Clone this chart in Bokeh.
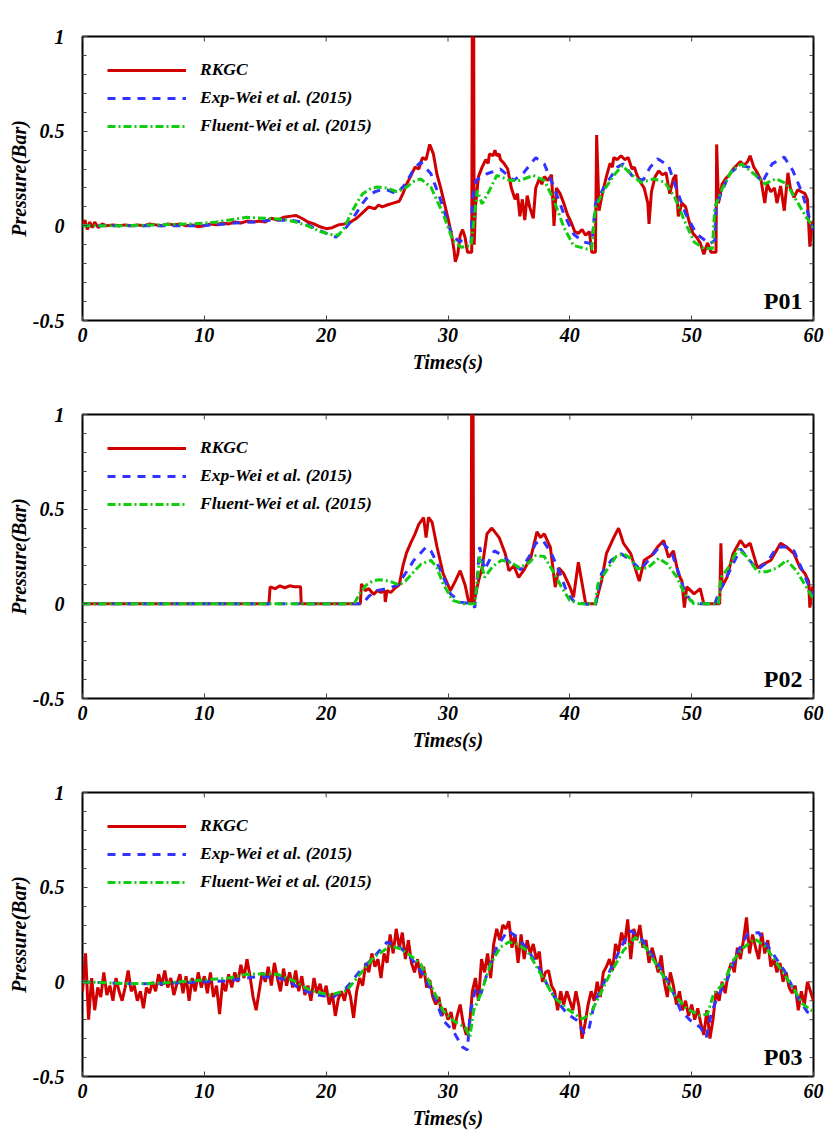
import numpy as np
from bokeh.plotting import figure
from bokeh.models import Range1d, FixedTicker, Legend, LegendItem, Label
from bokeh.layouts import column
from bokeh.embed import file_html
from bokeh.resources import INLINE

FONT = "Liberation Serif"
RED, BLUE, GREEN = "#D00000", "#3333FF", "#11CC11"
TICK_COLOR = "#444444"

SERIES_NAMES = ["RKGC", "Exp-Wei et al. (2015)", "Fluent-Wei et al. (2015)"]
PANEL_NAMES = ["P01", "P02", "P03"]
X_TICKS = [0, 10, 20, 30, 40, 50, 60]
Y_TICKS = [-0.5, 0, 0.5, 1]
Y_MINOR = [-0.4, -0.3, -0.2, -0.1, 0.1, 0.2, 0.3, 0.4, 0.6, 0.7, 0.8, 0.9]
Y_TICK_LABELS = {-0.5: "-0.5", 0: "0", 0.5: "0.5", 1: "1"}
X_LABEL = "Times(s)"
Y_LABEL = "Pressure(Bar)"

# ---------------- P01 ----------------
p1_rkgc = [(0, 0.0), (0.2, 0.03), (0.4, -0.02), (0.6, 0.02), (0.8, -0.01), (1.0, 0.02), (1.3, -0.01),
           (1.6, 0.01), (2, 0.0), (2.5, 0.005), (3, 0.0), (3.5, 0.005), (4, 0.0), (4.5, 0.005), (5, 0.0),
           (5.5, 0.01), (6, 0.005), (6.5, 0.0), (7, 0.01), (7.5, 0.005), (8, 0.01), (8.5, 0.0), (9, 0.005),
           (9.5, -0.005), (10, 0.0), (10.5, 0.01), (11, 0.005), (11.5, 0.015), (12, 0.01), (12.5, 0.02),
           (13, 0.015), (13.5, 0.025), (14, 0.02), (14.5, 0.025), (15, 0.02), (15.5, 0.04), (16, 0.03),
           (16.5, 0.045), (17, 0.05), (17.5, 0.055), (18, 0.04), (18.5, 0.02), (19, 0.01), (19.5, -0.005),
           (20, -0.015), (20.5, -0.01), (21, 0.005), (21.5, 0.01), (22, 0.02), (22.5, 0.04), (23, 0.07),
           (23.5, 0.1), (24, 0.09), (24.3, 0.11), (24.6, 0.1), (25, 0.11), (25.5, 0.12), (26, 0.13),
           (26.3, 0.17), (26.6, 0.22), (27, 0.27), (27.3, 0.31), (27.6, 0.3), (27.9, 0.36), (28.2, 0.35),
           (28.5, 0.43), (28.8, 0.38), (29.1, 0.27), (29.4, 0.2), (29.7, 0.12), (30.0, 0.04), (30.3, -0.05),
           (30.5, -0.13), (30.6, -0.19), (30.8, -0.15), (31.0, -0.05), (31.2, -0.02), (31.4, -0.06),
           (31.6, -0.14), (31.95, -0.14), (32.0, 1.3), (32.1, 1.3), (32.15, -0.1), (32.25, 0.1), (32.5, 0.26),
           (32.8, 0.31), (33.1, 0.35), (33.3, 0.33), (33.4, 0.38), (33.7, 0.37), (33.85, 0.4), (34.0, 0.37),
           (34.2, 0.38), (34.3, 0.35), (34.6, 0.33), (34.9, 0.3), (35.2, 0.2), (35.5, 0.14), (35.7, 0.17),
           (35.9, 0.05), (36.1, 0.14), (36.3, 0.03), (36.5, 0.16), (36.7, 0.1), (37.0, 0.04), (37.2, 0.2),
           (37.5, 0.25), (37.7, 0.22), (37.9, 0.26), (38.2, 0.24), (38.5, 0.27), (38.7, 0.0), (38.9, 0.2),
           (39.2, 0.17), (39.5, 0.12), (39.8, 0.06), (40.1, 0.02), (40.4, -0.03), (40.7, -0.04), (41.0, -0.02),
           (41.3, -0.05), (41.6, -0.03), (41.8, -0.14), (42.1, -0.14), (42.2, 0.48), (42.4, 0.08), (42.7, 0.18),
           (43.0, 0.26), (43.3, 0.33), (43.5, 0.31), (43.6, 0.36), (43.9, 0.35), (44.2, 0.37), (44.5, 0.35),
           (44.8, 0.36), (45.1, 0.3), (45.3, 0.31), (45.5, 0.27), (45.8, 0.23), (46.1, 0.2), (46.4, 0.12),
           (46.5, 0.01), (46.7, 0.18), (47.0, 0.26), (47.3, 0.29), (47.6, 0.27), (47.9, 0.28), (48.2, 0.17),
           (48.5, 0.25), (48.7, 0.27), (48.9, 0.05), (49.2, 0.12), (49.5, 0.1), (49.8, 0.02), (50.1, -0.04),
           (50.4, -0.06), (50.7, -0.09), (51.0, -0.15), (51.3, -0.09), (51.6, -0.14), (52.0, -0.14),
           (52.05, 0.43), (52.2, 0.12), (52.5, 0.22), (52.8, 0.25), (53.1, 0.27), (53.4, 0.3), (53.7, 0.32),
           (54.0, 0.34), (54.3, 0.32), (54.6, 0.34), (54.8, 0.37), (55.1, 0.31), (55.4, 0.28), (55.7, 0.24),
           (56.0, 0.12), (56.2, 0.22), (56.5, 0.18), (56.8, 0.2), (57.0, 0.12), (57.3, 0.21), (57.6, 0.08),
           (57.9, 0.28), (58.1, 0.2), (58.4, 0.15), (58.7, 0.19), (59.0, 0.18), (59.3, 0.17), (59.5, 0.14),
           (59.7, -0.11), (59.9, 0.02), (60, 0.02)]
p1_exp = [(0, 0.0), (3, 0.0), (6, 0.0), (9, 0.0), (11, 0.005), (12.5, 0.015), (14, 0.02), (15.5, 0.03),
          (17, 0.03), (18, 0.02), (19, -0.01), (20, -0.04), (20.8, -0.06), (21.5, -0.02), (22, 0.02),
          (22.5, 0.07), (23, 0.12), (23.5, 0.16), (24, 0.18), (24.5, 0.19), (25, 0.19), (25.8, 0.17),
          (26.5, 0.22), (27.2, 0.3), (27.75, 0.336), (28.6, 0.275), (29.4, 0.135), (30.2, -0.025),
          (30.8, -0.078), (31.6, -0.085), (31.9, -0.085), (32.0, 0.135), (32.3, 0.24), (33.2, 0.275),
          (34.3, 0.30), (35.4, 0.24), (36.2, 0.28), (37.2, 0.36), (37.9, 0.327), (38.7, 0.204), (39.5, 0.064),
          (40.3, -0.043), (41.1, -0.085), (41.8, -0.095), (42.1, 0.116), (42.8, 0.204), (43.9, 0.31),
          (44.4, 0.327), (45.2, 0.257), (46.0, 0.24), (46.6, 0.31), (47.2, 0.354), (48.1, 0.318), (48.7, 0.204),
          (49.5, 0.064), (50.4, -0.043), (51.5, -0.095), (51.9, -0.078), (52.0, 0.098), (52.4, 0.169),
          (53.1, 0.275), (53.9, 0.318), (54.7, 0.31), (55.8, 0.23), (56.6, 0.327), (57.6, 0.363), (58.3, 0.292),
          (59.1, 0.169), (59.8, 0.011), (60, -0.02)]
p1_fluent = [(0, 0.0), (3, 0.0), (6, 0.005), (9, 0.01), (11, 0.02), (12.5, 0.035), (13.5, 0.045), (15, 0.04),
             (16.5, 0.035), (17.5, 0.02), (18.5, 0.0), (19.5, -0.03), (20.3, -0.045), (21, -0.05), (21.5, -0.01),
             (22, 0.06), (22.5, 0.12), (23, 0.17), (23.6, 0.195), (24.2, 0.205), (25, 0.2), (25.8, 0.18),
             (26.5, 0.2), (27.2, 0.235), (27.75, 0.248), (28.6, 0.204), (29.6, 0.064), (30.4, -0.078),
             (31.1, -0.113), (31.9, -0.104), (32.4, 0.187), (32.8, 0.116), (33.4, 0.187), (34.0, 0.266),
             (35.1, 0.24), (35.9, 0.24), (37.0, 0.266), (37.9, 0.24), (38.7, 0.134), (39.5, -0.007),
             (40.3, -0.104), (41.4, -0.122), (41.8, -0.122), (42.1, 0.098), (42.8, 0.187), (43.6, 0.266),
             (44.3, 0.318), (45.0, 0.275), (45.8, 0.23), (46.9, 0.248), (47.8, 0.23), (48.6, 0.151),
             (49.4, 0.028), (50.2, -0.085), (51.0, -0.12), (51.7, -0.12), (51.9, 0.098), (52.5, 0.195),
             (53.3, 0.292), (54.1, 0.327), (55.1, 0.275), (56.0, 0.222), (56.9, 0.248), (57.8, 0.222),
             (58.6, 0.134), (59.4, 0.046), (59.8, 0.011), (60, -0.02)]

# ---------------- P02 ----------------
p2_rkgc = [(0, 0.0), (15.3, 0.0), (15.4, 0.09), (15.8, 0.08), (16.2, 0.095), (16.6, 0.085), (17.0, 0.095),
           (17.4, 0.09), (17.9, 0.09), (17.95, 0.0), (22.8, 0.0), (22.9, 0.105), (23.2, 0.07), (23.5, 0.08),
           (23.9, 0.05), (24.2, 0.07), (24.5, 0.06), (24.8, 0.07), (24.85, 0.01), (25.0, 0.07), (25.3, 0.06),
           (25.6, 0.08), (26.0, 0.1), (26.3, 0.2), (26.6, 0.27), (27.0, 0.33), (27.3, 0.37), (27.6, 0.42),
           (28.0, 0.455), (28.2, 0.35), (28.4, 0.457), (28.7, 0.43), (29.1, 0.3), (29.6, 0.16), (30.2, 0.07),
           (30.6, 0.12), (31.0, 0.175), (31.4, 0.1), (31.7, 0.01), (31.9, 0.0), (31.95, 1.3), (32.05, 1.3),
           (32.1, 0.0), (32.5, 0.12), (32.8, 0.19), (33.2, 0.37), (33.6, 0.40), (34.2, 0.35), (34.7, 0.265),
           (35.0, 0.175), (35.4, 0.2), (35.8, 0.14), (36.2, 0.175), (36.8, 0.245), (37.3, 0.38), (37.6, 0.35),
           (37.9, 0.37), (38.4, 0.30), (38.8, 0.088), (39.1, 0.19), (39.5, 0.16), (40.0, 0.09), (40.3, 0.035),
           (40.7, 0.22), (41.3, 0.0), (42.1, 0.0), (42.6, 0.12), (43.0, 0.265), (43.6, 0.35), (44.0, 0.40),
           (44.4, 0.32), (45.0, 0.265), (45.5, 0.16), (45.7, 0.12), (46.1, 0.23), (46.7, 0.255), (47.2, 0.30),
           (47.7, 0.335), (48.1, 0.245), (48.5, 0.28), (48.9, 0.16), (49.2, 0.12), (49.4, -0.02), (49.6, 0.09),
           (50.2, 0.053), (50.7, 0.08), (51.0, 0.0), (52.3, 0.0), (52.4, 0.32), (52.5, 0.09), (52.9, 0.14),
           (53.4, 0.265), (54.0, 0.335), (54.4, 0.30), (54.8, 0.32), (55.4, 0.19), (55.9, 0.21), (56.5, 0.23),
           (57.3, 0.32), (57.8, 0.30), (58.4, 0.265), (58.9, 0.19), (59.3, 0.16), (59.6, 0.12), (59.7, -0.02),
           (59.9, 0.09), (60, 0.05)]
p2_exp = [(0, 0.0), (23.0, 0.0), (23.5, 0.04), (24.2, 0.07), (25.0, 0.08), (25.9, 0.1), (26.5, 0.16),
          (27.2, 0.23), (28.2, 0.30), (28.6, 0.28), (29.4, 0.175), (30.2, 0.053), (31.0, 0.009), (32.0, 0.0),
          (32.2, -0.02), (32.6, 0.30), (33.0, 0.18), (33.8, 0.28), (34.5, 0.255), (35.2, 0.21), (36.0, 0.18),
          (36.8, 0.265), (37.2, 0.32), (37.8, 0.335), (38.5, 0.265), (39.2, 0.16), (39.8, 0.053), (40.4, 0.009),
          (41.2, 0.0), (42.1, -0.01), (42.6, 0.16), (43.4, 0.23), (44.2, 0.265), (45.0, 0.23), (45.8, 0.18),
          (46.7, 0.25), (47.6, 0.32), (48.3, 0.28), (48.8, 0.19), (49.4, 0.07), (49.9, 0.018), (50.7, 0.0),
          (51.9, 0.0), (52.2, 0.053), (52.7, 0.12), (53.4, 0.21), (54.0, 0.29), (54.5, 0.25), (55.4, 0.18),
          (56.2, 0.22), (57.0, 0.30), (57.8, 0.30), (58.4, 0.28), (59.2, 0.16), (59.9, 0.053), (60, 0.04)]
p2_fluent = [(0, 0.0), (22.3, 0.0), (22.8, 0.06), (23.3, 0.1), (23.8, 0.12), (24.3, 0.127), (24.8, 0.125),
             (25.4, 0.115), (26.0, 0.1), (26.5, 0.12), (27.2, 0.17), (27.8, 0.21), (28.6, 0.23), (29.1, 0.19),
             (29.6, 0.105), (30.4, 0.018), (31.3, 0.0), (32.2, 0.0), (32.6, 0.25), (33.0, 0.14), (33.7, 0.2),
             (34.4, 0.23), (35.1, 0.22), (35.9, 0.19), (36.7, 0.22), (37.2, 0.255), (37.9, 0.25), (38.6, 0.175),
             (39.3, 0.09), (40.0, 0.018), (40.8, 0.0), (42.1, 0.0), (42.3, 0.105), (43.0, 0.175), (43.8, 0.25),
             (44.4, 0.265), (45.0, 0.24), (45.5, 0.185), (46.4, 0.19), (47.3, 0.24), (48.0, 0.21), (48.8, 0.14),
             (49.4, 0.053), (50.2, 0.0), (52.2, 0.0), (52.4, 0.14), (53.0, 0.19), (53.8, 0.29), (54.5, 0.25),
             (55.4, 0.17), (56.2, 0.17), (57.0, 0.19), (57.8, 0.23), (58.6, 0.175), (59.4, 0.09), (59.9, 0.035),
             (60, 0.03)]

# ---------------- P03 ----------------
# RKGC sampled every 0.25 s from 0 to 60 s
p3_rkgc_values = [
    -0.05, 0.15, -0.2, 0.02, -0.15, -0.03, -0.08, 0.05, -0.07, -0.02, -0.1, 0.02, -0.05, -0.1, -0.03, 0.06, -0.05, -0.02, -0.1, -0.05,
    -0.14, -0.03, -0.06, 0.0, -0.05, 0.04, -0.02, 0.06, -0.03, 0.02, -0.07, -0.01, 0.04, -0.06, 0.03, -0.1, 0.02, -0.05, 0.05, -0.03,
    0.03, -0.06, 0.05, -0.08, -0.02, -0.17, 0.0, -0.05, 0.04, -0.03, 0.05, 0.0, 0.09, 0.02, 0.12, 0.03, -0.08, -0.15, -0.05, 0.05,
    0.0, 0.08, -0.02, 0.1, 0.02, -0.05, 0.07, -0.02, 0.05, -0.03, 0.06, -0.05, 0.03, -0.07, -0.02, -0.1, 0.02, -0.06, -0.01, -0.08,
    -0.02, -0.12, -0.06, -0.18, -0.09, -0.05, -0.1, -0.02, -0.08, -0.19, -0.05, 0.02, -0.02, 0.1, 0.05, 0.15, 0.08, 0.12, 0.02, 0.15,
    0.1, 0.25, 0.15, 0.28, 0.18, 0.26, 0.12, 0.22, 0.1, 0.05, 0.12, 0.02, 0.08, -0.03, 0.01, -0.08, -0.12, -0.08, -0.18, -0.14,
    -0.2, -0.16, -0.25, -0.18, -0.12, -0.22, -0.28, -0.24, -0.05, 0.02, -0.1, 0.12, 0.05, 0.15, 0.02, 0.2, 0.28, 0.22, 0.3, 0.28,
    0.32, 0.18, 0.25, 0.1, 0.25, 0.12, 0.22, 0.15, 0.2, 0.12, 0.16, 0.0, 0.05, 0.06, -0.02, -0.05, -0.15, -0.05, -0.12, -0.05,
    -0.1, -0.15, -0.05, -0.13, -0.3, -0.22, -0.12, -0.05, -0.1, 0.0, -0.08, 0.05, 0.08, 0.12, 0.06, 0.2, 0.16, 0.26, 0.2, 0.33,
    0.12, 0.28, 0.22, 0.3, 0.18, 0.22, 0.1, 0.18, 0.12, 0.05, 0.14, 0.0, -0.08, 0.05, -0.02, -0.12, -0.05, -0.15, -0.1, -0.18,
    -0.12, -0.2, -0.14, -0.22, -0.28, -0.15, -0.3, -0.2, -0.05, -0.1, 0.0, -0.06, 0.05, 0.1, 0.05, 0.18, 0.12, 0.22, 0.34, 0.15,
    0.25, 0.18, 0.12, 0.26, 0.15, 0.22, 0.08, 0.12, 0.05, 0.1, 0.0, 0.05, -0.03, -0.06, -0.02, -0.15, -0.05, -0.12, 0.0, -0.05,
    -0.1]
p3_rkgc_times = np.linspace(0, 60, len(p3_rkgc_values))
p3_rkgc = list(zip(p3_rkgc_times, p3_rkgc_values))
p3_exp = [(0, 0.0), (2, -0.005), (4, -0.01), (6, -0.01), (8, -0.005), (10, 0.0), (12, 0.005), (13, 0.016),
          (14.1, 0.025), (15.7, 0.025), (16.8, 0.01), (17.9, -0.04), (19.3, -0.07), (20.6, -0.08), (21.7, -0.03),
          (22.8, 0.06), (23.9, 0.13), (25.0, 0.21), (26.1, 0.18), (26.9, 0.13), (27.75, 0.06), (28.8, -0.063),
          (29.6, -0.204), (30.4, -0.257), (31.2, -0.345), (31.6, -0.36), (31.8, -0.17), (32.3, -0.028),
          (32.7, -0.063), (33.2, 0.042), (34.0, 0.183), (34.9, 0.27), (35.5, 0.245), (36.4, 0.183), (37.3, 0.095),
          (38.1, -0.01), (38.9, -0.098), (39.8, -0.17), (40.6, -0.204), (41.2, -0.275), (41.6, -0.24),
          (42.0, -0.116), (42.5, -0.045), (43.3, 0.06), (44.2, 0.183), (45.0, 0.27), (45.8, 0.235), (46.6, 0.156),
          (47.4, 0.077), (48.3, -0.028), (49.1, -0.152), (49.9, -0.204), (50.7, -0.24), (51.2, -0.292),
          (51.6, -0.17), (52.1, -0.081), (52.9, 0.007), (53.7, 0.148), (54.6, 0.253), (55.5, 0.26), (56.5, 0.165),
          (57.6, 0.06), (58.7, -0.081), (59.5, -0.16), (60, -0.17)]
p3_fluent = [(0, 0.0), (2, -0.005), (4, -0.01), (6, -0.008), (8, 0.0), (10, 0.01), (12, 0.02), (13.5, 0.04),
             (14.5, 0.042), (16, 0.04), (17.3, 0.007), (18.7, -0.045), (20.3, -0.07), (21.7, -0.045), (22.8, 0.042),
             (23.9, 0.13), (25.3, 0.19), (26.1, 0.174), (26.9, 0.14), (27.75, 0.095), (28.8, -0.045), (29.6, -0.152),
             (30.4, -0.204), (31.4, -0.24), (31.8, -0.29), (32.1, -0.152), (32.7, -0.063), (33.5, 0.095),
             (34.3, 0.183), (35.0, 0.21), (35.7, 0.2), (36.5, 0.165), (37.6, 0.042), (38.7, -0.081), (39.8, -0.143),
             (41.0, -0.196), (41.7, -0.17), (42.5, -0.063), (43.3, 0.042), (44.4, 0.165), (45.4, 0.235),
             (46.3, 0.174), (47.4, 0.06), (48.5, -0.063), (49.6, -0.143), (50.7, -0.178), (51.3, -0.17),
             (51.8, -0.063), (52.6, -0.01), (53.4, 0.112), (54.3, 0.183), (55.2, 0.227), (56.1, 0.183),
             (57.2, 0.077), (58.3, -0.028), (59.1, -0.116), (59.8, -0.15), (60, -0.15)]

PANELS = [(p1_rkgc, p1_exp, p1_fluent), (p2_rkgc, p2_exp, p2_fluent), (p3_rkgc, p3_exp, p3_fluent)]


def style_axis(ax, ticks, minor):
    ax.ticker = FixedTicker(ticks=ticks, minor_ticks=minor)
    ax.axis_line_color = None
    ax.major_tick_in = 5
    ax.major_tick_out = 0
    ax.minor_tick_in = 4
    ax.minor_tick_out = 0
    ax.major_tick_line_color = TICK_COLOR
    ax.minor_tick_line_color = TICK_COLOR
    ax.major_tick_line_width = 1
    ax.minor_tick_line_width = 1
    ax.major_label_text_font = FONT
    ax.major_label_text_font_style = "bold italic"
    ax.major_label_text_color = "black"
    ax.major_label_text_font_size = "20px"
    ax.axis_label_text_font = FONT
    ax.axis_label_text_font_style = "bold italic"
    ax.axis_label_text_font_size = "20px"
    ax.axis_label_text_color = "black"


def make_panel(idx, bottom_border):
    rk, ex, fl = PANELS[idx]
    p = figure(frame_width=731, frame_height=284, output_backend="svg", toolbar_location=None,
               x_range=Range1d(0, 60), y_range=Range1d(-0.5, 1),
               min_border_left=82, min_border_right=17, min_border_top=36, min_border_bottom=bottom_border,
               x_axis_label=X_LABEL, y_axis_label=Y_LABEL)
    p.xgrid.visible = False
    p.ygrid.visible = False
    p.outline_line_color = "black"
    p.outline_line_width = 2
    p.background_fill_color = "white"
    p.border_fill_color = "white"

    xa = p.xaxis[0]
    style_axis(xa, X_TICKS, [])
    xa.major_label_standoff = 7
    xa.axis_label_standoff = 6

    ya = p.yaxis[0]
    style_axis(ya, Y_TICKS, Y_MINOR)
    ya.major_label_overrides = Y_TICK_LABELS
    ya.major_label_standoff = 18
    ya.axis_label_standoff = 0

    # mirrored inside ticks on the top and right frame edges
    y_all = Y_TICKS + Y_MINOR
    y_len = [5] * len(Y_TICKS) + [4] * len(Y_MINOR)
    p.ray(x=[60] * len(y_all), y=y_all, length=y_len, length_units="screen", angle=np.pi,
          line_color=TICK_COLOR, line_width=1)
    p.ray(x=X_TICKS, y=[1] * len(X_TICKS), length=5, length_units="screen", angle=-np.pi / 2,
          line_color=TICK_COLOR, line_width=1)

    r_rk = p.line([a for a, b in rk], [b for a, b in rk], line_color=RED, line_width=3)
    r_ex = p.line([a for a, b in ex], [b for a, b in ex], line_color=BLUE, line_width=3, line_dash="8 7")
    r_fl = p.line([a for a, b in fl], [b for a, b in fl], line_color=GREEN, line_width=3, line_dash="8 3 2 3")

    legend = Legend(items=[LegendItem(label=SERIES_NAMES[0], renderers=[r_rk]),
                           LegendItem(label=SERIES_NAMES[1], renderers=[r_ex]),
                           LegendItem(label=SERIES_NAMES[2], renderers=[r_fl])],
                    location=(25, 184))
    legend.border_line_color = None
    legend.background_fill_alpha = 0
    legend.label_text_font = FONT
    legend.label_text_font_style = "bold italic"
    legend.label_text_font_size = "17.5px"
    legend.label_text_color = "black"
    legend.glyph_width = 79
    legend.glyph_height = 20
    legend.label_height = 20
    legend.label_standoff = 14
    legend.spacing = 7
    legend.padding = 0
    legend.margin = 0
    p.add_layout(legend)

    p.add_layout(Label(x=59.1, y=-0.395, text=PANEL_NAMES[idx], text_align="right", text_baseline="middle",
                       text_font=FONT, text_font_style="bold", text_font_size="24px", text_color="black"))
    return p


figs = [make_panel(0, 58), make_panel(1, 58), make_panel(2, 56)]
layout = column(*figs, spacing=0)
open("out.html", "w").write(file_html(layout, INLINE))
